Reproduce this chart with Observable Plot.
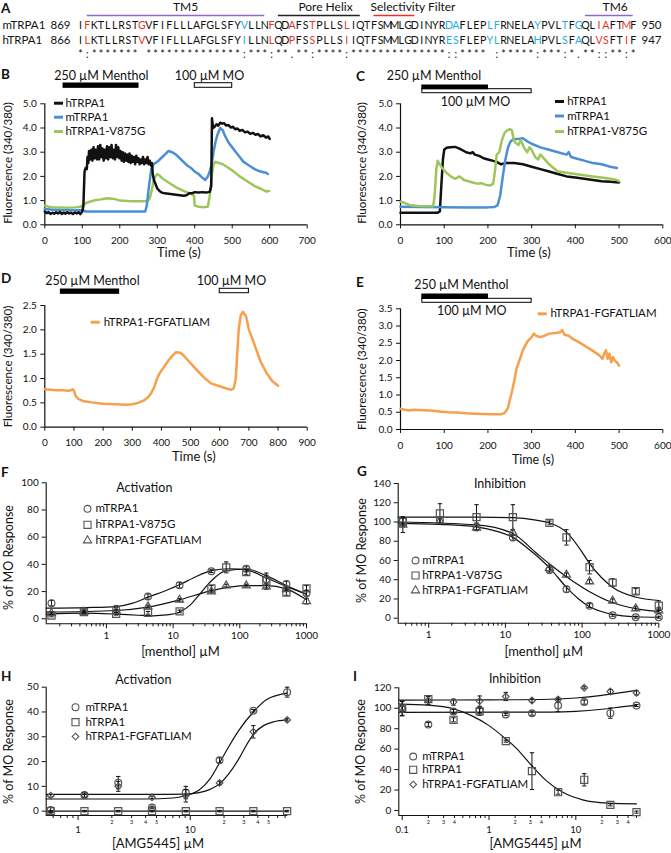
<!DOCTYPE html>
<html><head><meta charset="utf-8">
<script src="https://cdn.jsdelivr.net/npm/d3@7"></script>
<script src="https://cdn.jsdelivr.net/npm/@observablehq/plot@0.6"></script>
<style>
html,body{margin:0;padding:0;background:#fff;}
#fig{position:relative;width:671px;height:853px;overflow:hidden;background:#fff;font-family:Lato,"Open Sans",sans-serif;color:#111;}
#fig .p{position:absolute;}
#fig svg{overflow:visible;}
.h{position:absolute;white-space:nowrap;line-height:1;}
</style></head>
<body><div id="fig"></div>
<script>
// ================= DATA =================
// Panel A: alignment
const mSeq = "IFKTLLRSTGVFIFLLLAFGLSFYVLLNFQDAFSTPLLSLIQTFSMMLGDINYRDAFLEPLFRNELAYPVLTFGQLIAFTMF";
const hSeq = "ILKTLLRSTVVFIFLLLAFGLSFYILLNLQDPFSSPLLSIIQTFSMMLGDINYRESFLEPYLRNELAHPVLSFAQLVSFTIF";
const consSeq = ["*",":","*******"," ","**************",":","***",":","**",".","**",":","****",":","**************","::","****"," ",":","*****",":","***",":","*",".","**","::","**",":","*"].join("");
const redPos = [2,10,29,32,35,40,77,78,81];
const cyanPos = [25,55,56,61,62,68,72,74];
const seqNames = ["mTRPA1","hTRPA1"];
const seqStart = ["869","866"];
const seqEnd = ["950","947"];
const domainNames = ["TM5","Pore Helix","Selectivity Filter","TM6"];
const domainStart = [2,30,44,75];
const domainEnd = [28,42,50,82];

// Panel B (time s, 340/380)
const B_hTRPA1 = [[0,0.55],[5,0.48],[10,0.52],[15,0.45],[20,0.5],[25,0.46],[30,0.52],[35,0.47],[40,0.53],[45,0.45],[50,0.5],[55,0.46],[60,0.52],[65,0.47],[70,0.5],[75,0.45],[80,0.51],[85,0.47],[90,0.52],[95,0.44],[100,0.55],[103,0.8],[106,2.2],[109,2.35],[112,2.3],[114,2.8],[116,2.55],[118,3.05],[121,2.7],[124,3.1],[127,2.65],[130,3.2],[133,2.75],[136,3.1],[139,2.7],[142,3.25],[145,2.7],[148,3.3],[151,2.8],[154,3.15],[157,2.65],[160,3.1],[163,2.75],[166,3.25],[169,2.7],[172,3.2],[175,2.8],[178,3.3],[181,2.75],[184,3.1],[187,2.7],[190,3.3],[193,2.8],[196,3.2],[199,2.75],[202,3.05],[205,2.65],[208,3.0],[211,2.6],[214,2.95],[217,2.65],[220,2.9],[223,2.6],[226,2.95],[229,2.55],[232,2.85],[235,2.6],[238,2.8],[241,2.5],[244,2.85],[247,2.6],[250,2.75],[253,2.5],[256,2.7],[259,2.55],[262,2.8],[265,2.5],[268,2.7],[271,2.55],[274,2.8],[277,2.5],[280,2.65],[283,2.45],[286,2.55],[288,2.1],[291,1.85],[295,1.7],[300,1.5],[306,1.4],[312,1.33],[320,1.3],[330,1.28],[340,1.26],[350,1.24],[360,1.22],[370,1.2],[378,1.22],[385,1.3],[392,1.3],[400,1.35],[410,1.33],[420,1.35],[430,1.33],[440,1.36],[444,1.6],[446,4.4],[449,4.0],[453,4.05],[458,4.15],[463,4.1],[468,4.22],[473,4.18],[478,4.2],[484,4.1],[490,4.12],[496,4.02],[502,4.05],[508,3.95],[514,3.98],[520,3.88],[527,3.92],[534,3.82],[541,3.85],[548,3.76],[555,3.8],[562,3.72],[569,3.75],[576,3.65],[583,3.7],[590,3.6],[596,3.65],[600,3.55]];
const B_mTRPA1 = [[0,0.65],[20,0.62],[50,0.6],[80,0.6],[100,0.6],[110,0.55],[150,0.55],[200,0.55],[250,0.55],[268,0.55],[272,0.8],[278,1.6],[284,2.3],[290,2.5],[300,2.6],[310,2.75],[320,2.9],[330,3.05],[340,3.0],[350,2.9],[360,2.75],[370,2.6],[380,2.45],[390,2.35],[400,2.2],[410,2.1],[420,1.95],[428,1.85],[435,2.0],[440,2.2],[445,2.5],[450,3.0],[455,3.4],[460,3.7],[468,4.0],[475,3.9],[480,3.7],[490,3.4],[500,3.2],[510,3.0],[520,2.8],[530,2.6],[540,2.5],[550,2.4],[560,2.3],[575,2.2],[590,2.15],[595,2.1]];
const B_V875G = [[0,0.8],[10,0.75],[20,0.72],[40,0.72],[60,0.7],[80,0.72],[95,0.75],[100,0.8],[110,0.9],[120,0.95],[130,1.0],[150,1.05],[165,1.1],[180,1.08],[190,1.05],[200,1.0],[220,0.98],[240,0.97],[260,0.97],[275,0.98],[280,1.1],[285,1.4],[290,1.8],[295,2.0],[300,2.1],[305,2.05],[315,1.9],[330,1.75],[350,1.55],[370,1.4],[390,1.28],[398,1.2],[400,0.8],[410,0.75],[425,0.73],[435,0.75],[440,1.2],[445,2.0],[450,2.5],[455,2.6],[465,2.55],[475,2.5],[485,2.4],[500,2.25],[520,2.0],[540,1.8],[560,1.6],[575,1.5],[590,1.38],[598,1.4]];
const B_menthol = [50,250], B_MO = [400,500];
const B_xTicks = [0,100,200,300,400,500,600,700], B_yTicks = [0,1,2,3,4,5];

// Panel C
const C_hTRPA1 = [[0,0.5],[40,0.5],[85,0.5],[90,0.55],[93,1.5],[97,2.7],[100,3.1],[105,3.18],[115,3.2],[125,3.22],[135,3.15],[145,3.05],[150,3.0],[160,2.95],[165,3.0],[170,2.9],[180,2.85],[190,2.75],[200,2.7],[210,2.65],[220,2.6],[230,2.5],[240,2.55],[260,2.55],[280,2.5],[300,2.4],[320,2.3],[340,2.2],[360,2.1],[380,2.0],[400,1.95],[420,1.9],[440,1.85],[460,1.8],[480,1.78],[500,1.75]];
const C_mTRPA1 = [[0,0.75],[50,0.74],[100,0.73],[150,0.72],[200,0.72],[215,0.74],[222,0.8],[228,1.2],[234,2.0],[240,2.7],[246,3.2],[252,3.45],[260,3.55],[270,3.55],[280,3.58],[290,3.45],[300,3.35],[320,3.2],[340,3.1],[360,3.0],[380,2.9],[385,3.0],[390,2.8],[400,2.75],[420,2.65],[440,2.55],[460,2.5],[480,2.4],[495,2.35]];
const C_V875G = [[0,0.95],[10,0.9],[20,0.82],[40,0.78],[60,0.77],[75,0.77],[78,1.2],[82,2.3],[85,2.65],[88,2.55],[95,2.35],[105,2.15],[115,2.0],[125,1.9],[135,2.0],[145,1.85],[155,1.8],[165,1.75],[175,1.7],[185,1.72],[195,1.65],[205,1.62],[212,1.7],[216,2.2],[220,2.9],[226,3.0],[232,3.5],[238,3.8],[244,3.9],[250,3.95],[255,3.9],[258,3.6],[262,3.4],[270,3.3],[275,3.5],[282,3.2],[290,3.0],[295,3.2],[300,3.1],[308,2.8],[315,2.7],[320,2.9],[330,2.7],[340,2.5],[350,2.35],[360,2.2],[380,2.15],[400,2.1],[420,2.05],[440,2.0],[460,1.95],[480,1.9],[495,1.85],[500,1.8]];
const C_menthol = [50,200], C_MO = [50,300];
const C_xTicks = [0,100,200,300,400,500,600], C_yTicks = [0,1,2,3,4,5];

// Panel D
const D_FGF = [[0,0.78],[20,0.77],[40,0.76],[60,0.76],[80,0.75],[90,0.76],[95,0.78],[100,0.75],[105,0.65],[115,0.58],[130,0.54],[160,0.51],[200,0.48],[240,0.47],[280,0.46],[300,0.47],[320,0.5],[340,0.55],[355,0.62],[365,0.7],[375,0.82],[385,1.0],[395,1.12],[410,1.25],[425,1.38],[440,1.48],[450,1.54],[465,1.53],[475,1.48],[490,1.38],[510,1.25],[530,1.12],[550,1.0],[570,0.9],[600,0.84],[620,0.8],[640,0.77],[648,0.8],[655,1.0],[660,1.5],[665,2.0],[672,2.3],[680,2.37],[690,2.28],[695,2.15],[700,2.0],[710,1.85],[725,1.6],[740,1.35],[760,1.12],[780,0.95],[800,0.85]];
const D_menthol = [55,255], D_MO = [600,700];
const D_xTicks = [0,100,200,300,400,500,600,700,800,900], D_yTicks = [0,0.5,1,1.5,2,2.5];

// Panel E
const E_FGF = [[0,0.6],[10,0.57],[20,0.55],[30,0.57],[50,0.56],[70,0.55],[90,0.52],[110,0.5],[130,0.49],[150,0.47],[170,0.46],[190,0.45],[210,0.44],[230,0.44],[238,0.48],[245,0.6],[250,0.85],[255,1.1],[260,1.4],[265,1.75],[272,2.0],[280,2.3],[290,2.55],[300,2.68],[305,2.78],[310,2.72],[320,2.68],[330,2.72],[340,2.78],[355,2.8],[365,2.82],[370,2.88],[375,2.75],[385,2.72],[395,2.62],[410,2.52],[425,2.4],[440,2.28],[455,2.15],[462,2.05],[466,2.2],[470,2.3],[474,2.05],[478,2.2],[482,1.95],[486,2.1],[490,2.0],[495,1.95],[500,1.85]];
const E_menthol = [50,200], E_MO = [50,300];
const E_xTicks = [0,100,200,300,400,500,600], E_yTicks = [0,0.5,1,1.5,2,2.5,3,3.5];

// Panel F (menthol activation, % of MO response)
const F_conc = [0.15,0.46,1.4,4.2,12.5,37.5,62.5,125,250,500,1000];
const F_m = [11.5,5.6,7.3,16.3,24.6,35,null,36.8,29,25.6,18.8];
const F_mErr = [2,1,1,2,2,1,0,2,3,2,2];
const F_v = [2.4,4.9,3.7,4.4,5.4,22.4,37.8,34.4,27.6,19.3,22.4];
const F_vErr = [1,1,1,1,1,2,4,2,6,2,2];
const F_f = [4.1,5,5.6,9,13.9,20,24.4,24.4,23.7,21.7,12.9];
const F_fErr = [1,1,1,1,1,1,1,1,1,1,2];
const F_mFit = [[0.125,7.8],[0.5,8.2],[1.4,9],[2.5,11.5],[4.2,15.9],[8,21],[12.5,25],[20,30],[37.5,35.4],[70,36.8],[125,36],[250,30],[500,23.7],[1000,18]];
const F_vFit = [[0.125,3.3],[0.46,4.1],[1.4,3.4],[3,2.6],[5,2.2],[8,2.8],[12.5,5],[18,10],[25,18],[37.5,28],[62.5,35.4],[125,36.6],[250,31.7],[500,24.4],[1000,18]];
const F_fFit = [[0.125,4.9],[1.4,6.1],[4.2,8.5],[12.5,13.9],[37.5,20.7],[125,24.4],[250,24.4],[500,22],[1000,13.9]];
const F_yTicks = [0,20,40,60,80,100];
const F_major = [1,10,100,1000];
const F_minor = [0.2,0.3,0.4,0.5,0.6,0.7,0.8,0.9,2,3,4,5,6,7,8,9,20,30,40,50,60,70,80,90,200,300,400,500,600,700,800,900];

// Panel G (menthol inhibition)
const G_conc = [0.46,1.4,4.2,12.5,37.5,62.5,125,250,500,1000];
const G_m = [101,102,95,84,50,30,13,3,1,1];
const G_mErr = [4,3,4,3,3,3,2,1,1,1];
const G_v = [100,109,105,105,99,84,53,37,28,13];
const G_vErr = [5,10,13,13,2,8,7,4,3,5];
const G_f = [97,101,94,89,52,45,38,18,10,8];
const G_fErr = [8,3,3,3,3,2,2,2,2,3];
const G_mFit = [[0.4,98.5],[1.4,97.5],[4.2,95],[8,90],[12.5,84],[20,72],[30,60],[40,50],[62.5,32],[90,20],[125,12],[250,4],[500,1.5],[1000,1]];
const G_vFit = [[0.4,105],[4.2,105],[12.5,104.5],[25,102],[38,99],[62.5,89.5],[100,68.7],[122,58],[180,42],[252,32],[495,22],[1000,18.4]];
const G_fFit = [[0.4,100],[4.2,97],[12.5,88],[25,68],[38,56],[62.5,43],[122,28],[252,16],[495,10],[1000,7]];
const G_yTicks = [0,20,40,60,80,100,120,140];
const G_major = [1,10,100,1000];
const G_minor = [0.5,0.6,0.7,0.8,0.9,2,3,4,5,6,7,8,9,20,30,40,50,60,70,80,90,200,300,400,500,600,700,800,900];

// Panel H (AMG5445 activation)
const H_conc = [0.57,1.14,2.28,4.56,9.125,18.25,36.5,73];
const H_m = [0.5,6.5,11.5,1.5,7.5,20.5,40.5,48];
const H_mErr = [1,1,2.5,0.5,2.5,1,0.5,2];
const H_h = [0,0,0,0,0,0,0,0];
const H_hErr = [0.3,0.3,0.3,0.3,0.3,0.3,0.3,0.3];
const H_f = [6.2,6.5,10,5.6,6.2,11.4,32,36.8];
const H_fErr = [0.5,1,2,0.5,2.5,0.7,2.5,0.5];
const H_mFit = [[0.52,4.9],[4,4.9],[7,5.3],[9.1,6.3],[12,8.5],[15,13],[18.25,19.5],[22,26],[27,32.5],[36.5,40],[48,45],[73,47.6]];
const H_hFit = [[0.52,0],[73,0]];
const H_fFit = [[0.52,6.8],[5,6.8],[9,6.9],[12,7.5],[15,8.8],[18.25,11],[22,15],[27,21],[32,27],[36.5,31],[45,34.5],[55,36],[73,36.8]];
const H_yTicks = [0,10,20,30,40,50];
const H_major = [1,10];
const H_minor = [0.6,0.7,0.8,0.9,2,3,4,5,6,7,8,9,20,30,40,50,60,70];

// Panel I (AMG5445 inhibition)
const I_conc = [0.1,0.2,0.39,0.78,1.56,3.125,6.25,12.5,25,50];
const I_m = [99.5,84,96.8,97.8,94,95.2,102.7,106,95.2,102.7];
const I_mErr = [7,2,2,2,1,2,6,2,5,1];
const I_h = [100,109,88.7,97,67.8,38.5,17.9,30,5.5,-1.6];
const I_hErr = [7,3,2,4,1,18,2,6,1,1];
const I_f = [100,107.6,106,107,111.5,107.6,108.6,120,116.4,115];
const I_fErr = [3,4,3,5,4,2,2,1,2,2];
const I_mFit = [[0.0914,96],[5,96.3],[10,97],[20,99],[35,101.5],[50,103]];
const I_hFit = [[0.0914,104],[0.2,103],[0.39,99.5],[0.62,93],[1,83],[1.56,70],[2,62],[3.1,44],[4.6,29],[7,18],[12,10.4],[23,7.2],[50,6.5]];
const I_fFit = [[0.0914,108],[1,108.2],[5,108.8],[10,110],[20,112.5],[35,115.5],[50,117.5]];
const I_yTicks = [0,20,40,60,80,100,120];
const I_major = [0.1,1,10];
const I_minor = [0.2,0.3,0.4,0.5,0.6,0.7,0.8,0.9,2,3,4,5,6,7,8,9,20,30,40,50];

// ================= STYLE / HELPERS =================
const FONT = "Lato, 'Open Sans', sans-serif";
const COL = {black:"#111111", blue:"#4a8fd6", green:"#9cc65a", orange:"#f6a04c", red:"#e5332a", cyan:"#25aee0", purple:"#9068cc", marker:"#555555"};
const STYLE = {fontFamily: FONT, fontSize: "10px", background: "transparent", overflow: "visible", maxWidth: "none", color: "#111"};
const fig = document.getElementById("fig");

function place(svg, b){
  const d = document.createElement("div");
  d.className = "p"; d.style.left = b.left + "px"; d.style.top = b.top + "px";
  d.style.width = (b.right - b.left) + "px"; d.style.height = (b.bottom - b.top) + "px";
  d.appendChild(svg); fig.appendChild(d);
}
function htext(str, x, y, size, weight, center){
  const s = document.createElement("div");
  s.className = "h"; s.textContent = str;
  s.style.fontSize = size + "px"; s.style.fontWeight = weight || "normal";
  s.style.left = x + "px"; s.style.top = y + "px";
  s.style.transform = center ? "translate(-50%,-50%)" : "translate(0,-50%)";
  fig.appendChild(s);
}
function dims(b){ return {width:b.right-b.left, height:b.bottom-b.top, marginLeft:b.fx0-b.left, marginRight:b.right-b.fx1, marginTop:b.fy0-b.top, marginBottom:b.bottom-b.fy1}; }
function at(b, str, px, py, o){ return Plot.text([str], Object.assign({text:d=>d, frameAnchor:"top-left", dx:px-b.fx0, dy:py-b.fy0, fontFamily:FONT, fill:"#111", lineAnchor:"middle"}, o||{})); }
function yAt(b, dom, py){ return dom[0] + (b.fy1-py)/(b.fy1-b.fy0)*(dom[1]-dom[0]); }
const hline = {draw(ctx, size){ const w = Math.sqrt(size/Math.PI); ctx.moveTo(-w,0); ctx.lineTo(w,0); }};
function legLine(b, color, px, py, label, tx){
  return [
    Plot.dot([0], {frameAnchor:"top-left", dx:px-b.fx0, dy:py-b.fy0, symbol:hline, r:4.5, stroke:color, strokeWidth:3, fill:"none"}),
    at(b, label, tx, py, {textAnchor:"start", fontSize:11.5})
  ];
}
function legSym(b, symbol, r, px, py, label, tx){
  return [
    Plot.dot([0], {frameAnchor:"top-left", dx:px-b.fx0, dy:py-b.fy0, symbol, r, stroke:COL.marker, strokeWidth:1.1, fill:"none"}),
    at(b, label, tx, py, {textAnchor:"start", fontSize:11.5})
  ];
}
function ylab(b, str, px, py, size){ return at(b, str, px, py, {rotate:-90, textAnchor:"middle", fontSize:size}); }
function xlab(b, str, px, py, size){ return at(b, str, px, py, {textAnchor:"middle", fontSize:size}); }
function bar(b, dom, range, topPx, botPx, filled){
  return Plot.rect([range], {x1:d=>d[0], x2:d=>d[1], y1:()=>yAt(b,dom,botPx), y2:()=>yAt(b,dom,topPx), fill: filled ? "#000" : "#fff", stroke:"#000", strokeWidth:1});
}

function tracePanel(b, xDomain, yDomain, xTicks, yTicks, series, extra){
  const marks = [
    Plot.ruleX([xDomain[0]], {y1:()=>yDomain[0], y2:()=>yDomain[1], stroke:"#111", strokeWidth:1.2}),
    Plot.ruleY([yDomain[0]], {x1:()=>xDomain[0], x2:()=>xDomain[1], stroke:"#111", strokeWidth:1.2}),
    Plot.axisX({ticks:xTicks, tickSize:4, tickPadding:8, tickFormat:d=>String(d), label:null, fontSize:10}),
    Plot.axisY({ticks:yTicks, tickSize:4, tickPadding:4, tickFormat:d3.format(".1f"), label:null, fontSize:10}),
    ...series.map(s => Plot.line(s.data, {x:d=>d[0], y:d=>d[1], stroke:s.color, strokeWidth:2.5, strokeLinejoin:"round"})),
    ...extra
  ];
  return Plot.plot(Object.assign(dims(b), {x:{domain:xDomain}, y:{domain:yDomain}, style:STYLE, marks}));
}

const digit = d => { const p = Math.pow(10, Math.floor(Math.log10(d) + 1e-9)); return String(Math.round(d / p)); };
function dosePanel(b, o){
  const marks = [
    Plot.ruleX([o.xDomain[0]], {y1:()=>o.yDomain[0], y2:()=>o.yTicks[o.yTicks.length-1], stroke:"#111", strokeWidth:1.1}),
    Plot.ruleY([o.yDomain[0]], {x1:()=>o.xDomain[0], x2:()=>o.xDomain[1], stroke:"#111", strokeWidth:1.1}),
    Plot.axisY({ticks:o.yTicks, tickSize:4, tickPadding:3.5, tickFormat:d=>String(d), label:null, fontSize:10}),
    Plot.axisX({ticks:o.minor, tickSize:3, tickPadding:1.5, tickFormat: o.minorDigits ? digit : ()=>"", label:null, fontSize:5.5}),
    Plot.axisX({ticks:o.major, tickSize:5, tickPadding:o.majorPad, tickFormat:d=>String(d), label:null, fontSize:o.majorFont})
  ];
  for (const s of o.series) marks.push(Plot.line(s.fit, {x:d=>d[0], y:d=>d[1], stroke:"#111", strokeWidth:1.2, curve:"monotone-x"}));
  for (const s of o.series) {
    const t = o.conc.map((x,k)=>({x, y:s.y[k], e:s.e[k]})).filter(d => d.y != null);
    marks.push(Plot.ruleX(t, {x:"x", y1:d=>d.y-d.e, y2:d=>d.y+d.e, stroke:"#111", strokeWidth:1}));
    marks.push(Plot.dot(t, {x:"x", y:d=>d.y-d.e, symbol:hline, r:2.2, stroke:"#111", strokeWidth:1, fill:"none"}));
    marks.push(Plot.dot(t, {x:"x", y:d=>d.y+d.e, symbol:hline, r:2.2, stroke:"#111", strokeWidth:1, fill:"none"}));
    marks.push(Plot.dot(t, {x:"x", y:"y", symbol:s.symbol, r:s.r, stroke:COL.marker, strokeWidth:1.2, fill:"none"}));
  }
  return Plot.plot(Object.assign(dims(b), {x:{type:"log", domain:o.xDomain}, y:{domain:o.yDomain}, style:STYLE, marks:marks.concat(o.extra)}));
}

// ================= PANEL A =================
const bA = {left:0, top:0, right:671, bottom:64, fx0:0, fx1:671, fy0:0, fy1:64};
const rowY = {m:25.3, h:40.3, c:54};
const resTable = [];
for (let k = 0; k < mSeq.length; k++) {
  resTable.push({i:k+1, row:"m", c:mSeq[k]});
  resTable.push({i:k+1, row:"h", c:hSeq[k]});
  if (consSeq[k] !== " ") resTable.push({i:k+1, row:"c", c:consSeq[k]});
}
const resColor = d => d.row === "c" ? COL.black : redPos.includes(d.i) ? COL.red : cyanPos.includes(d.i) ? COL.cyan : COL.black;
const domainColors = [COL.purple, "#222", COL.red, COL.purple];
const domainLabelPx = [185, 325, 412.5, 614.7];
const plotA = Plot.plot({
  width:671, height:64, margin:0,
  x:{domain:[1,82], range:[80,632.7], axis:null},
  y:{domain:[0,64], range:[0,64], axis:null},
  color:{type:"identity"},
  style:STYLE,
  marks:[
    Plot.ruleY([0,1,2,3], {x1:j=>domainStart[j], x2:j=>domainEnd[j], y:()=>15, stroke:j=>domainColors[j], strokeWidth:1.6}),
    ...domainNames.map((n,j) => at(bA, n, domainLabelPx[j], 6.8, {textAnchor:"middle", fontSize:12})),
    Plot.text(resTable, {x:"i", y:d=>rowY[d.row], text:"c", fill:resColor, fontSize:10.6, fontFamily:FONT, lineAnchor:"middle"}),
    ...seqNames.map((n,j) => at(bA, n, 2, j ? rowY.h : rowY.m, {textAnchor:"start", fontSize:11.5})),
    ...seqStart.map((n,j) => at(bA, n, 70, j ? rowY.h : rowY.m, {textAnchor:"end", fontSize:11.5})),
    ...seqEnd.map((n,j) => at(bA, n, 641, j ? rowY.h : rowY.m, {textAnchor:"start", fontSize:11.5}))
  ]
});
place(plotA, bA);

// ================= PANEL B =================
const bB = {left:0, top:60, right:330, bottom:262, fx0:44.3, fx1:306.7, fy0:103.3, fy1:224.3};
const domB = [0,5];
place(tracePanel(bB, [0,700], domB, B_xTicks, B_yTicks,
  [{data:B_V875G, color:COL.green}, {data:B_mTRPA1, color:COL.blue}, {data:B_hTRPA1, color:COL.black}],
  [
    bar(bB, domB, B_menthol, 83, 87.3, true),
    bar(bB, domB, B_MO, 82.7, 87.3, false),
    at(bB, "250 µM Menthol", 100.8, 75, {textAnchor:"middle", fontSize:12.5}),
    at(bB, "100 µM MO", 209, 75, {textAnchor:"middle", fontSize:12.5}),
    ...legLine(bB, COL.black, 58, 102.7, "hTRPA1", 65),
    ...legLine(bB, COL.blue, 58, 116.7, "mTRPA1", 65),
    ...legLine(bB, COL.green, 58, 131, "hTRPA1-V875G", 65),
    ylab(bB, "Fluorescence (340/380)", 7.8, 162.5, 11.6),
    xlab(bB, "Time (s)", 178.3, 252.5, 13)
  ]), bB);

// ================= PANEL C =================
const bC = {left:352, top:60, right:671, bottom:262, fx0:400, fx1:662.3, fy0:103.3, fy1:224.3};
const domC = [0,5];
place(tracePanel(bC, [0,600], domC, C_xTicks, C_yTicks,
  [{data:C_hTRPA1, color:COL.black}, {data:C_mTRPA1, color:COL.blue}, {data:C_V875G, color:COL.green}],
  [
    bar(bC, domC, C_MO, 88.7, 92.7, false),
    bar(bC, domC, C_menthol, 85, 88.7, true),
    at(bC, "250 µM Menthol", 433.5, 75, {textAnchor:"middle", fontSize:12.5}),
    at(bC, "100 µM MO", 475, 101, {textAnchor:"middle", fontSize:12.5}),
    ...legLine(bC, COL.black, 559, 101, "hTRPA1", 566.7),
    ...legLine(bC, COL.blue, 559, 115.5, "mTRPA1", 566.7),
    ...legLine(bC, COL.green, 559, 131, "hTRPA1-V875G", 566.7),
    ylab(bC, "Fluorescence (340/380)", 361.7, 162.5, 11.6),
    xlab(bC, "Time (s)", 528.3, 252.5, 13)
  ]), bC);

// ================= PANEL D =================
const bD = {left:0, top:268, right:330, bottom:466, fx0:44.3, fx1:306.7, fy0:305, fy1:426.7};
const domD = [0,2.5];
place(tracePanel(bD, [0,900], domD, D_xTicks, D_yTicks,
  [{data:D_FGF, color:COL.orange}],
  [
    bar(bD, domD, D_menthol, 289, 293.3, true),
    bar(bD, domD, D_MO, 288.3, 292.7, false),
    at(bD, "250 µM Menthol", 92, 280, {textAnchor:"middle", fontSize:12.5}),
    at(bD, "100 µM MO", 231, 280, {textAnchor:"middle", fontSize:12.5}),
    ...legLine(bD, COL.orange, 94.7, 321.7, "hTRPA1-FGFATLIAM", 103.3),
    ylab(bD, "Fluorescence (340/380)", 7.8, 366, 11.6),
    xlab(bD, "Time (s)", 193.3, 456, 13)
  ]), bD);

// ================= PANEL E =================
const bE = {left:352, top:268, right:671, bottom:466, fx0:400, fx1:662.3, fy0:308.3, fy1:429};
const domE = [0,3.5];
place(tracePanel(bE, [0,600], domE, E_xTicks, E_yTicks,
  [{data:E_FGF, color:COL.orange}],
  [
    bar(bE, domE, E_MO, 298.3, 302.3, false),
    bar(bE, domE, E_menthol, 294, 298.3, true),
    at(bE, "250 µM Menthol", 460.8, 284.5, {textAnchor:"middle", fontSize:12.5}),
    at(bE, "100 µM MO", 471.3, 310.5, {textAnchor:"middle", fontSize:12.5}),
    ...legLine(bE, COL.orange, 541.7, 313.3, "hTRPA1-FGFATLIAM", 550),
    ylab(bE, "Fluorescence (340/380)", 361.7, 368.7, 11.6),
    xlab(bE, "Time (s)", 532.5, 459, 12.5)
  ]), bE);

// ================= PANEL F =================
const bF = {left:0, top:476, right:330, bottom:662, fx0:45.7, fx1:306, fy0:482.3, fy1:623.3};
place(dosePanel(bF, {
  xDomain:[0.125,1000], yDomain:[-3.7,100], yTicks:F_yTicks, major:F_major, minor:F_minor, minorDigits:false, majorPad:3, majorFont:10,
  conc:F_conc,
  series:[
    {y:F_m, e:F_mErr, fit:F_mFit, symbol:"circle", r:3.4},
    {y:F_v, e:F_vErr, fit:F_vFit, symbol:"square", r:4},
    {y:F_f, e:F_fErr, fit:F_fFit, symbol:"triangle", r:3}
  ],
  extra:[
    ...legSym(bF, "circle", 3.4, 87, 508.3, "mTRPA1", 95),
    ...legSym(bF, "square", 4, 87, 524.3, "hTRPA1-V875G", 95),
    ...legSym(bF, "triangle", 3, 87, 540, "hTRPA1-FGFATLIAM", 95),
    ylab(bF, "% of MO Response", 8.3, 557, 12.5),
    xlab(bF, "[menthol] µM", 180, 651.7, 13)
  ]
}), bF);

// ================= PANEL G =================
const bG = {left:352, top:476, right:671, bottom:662, fx0:397.7, fx1:658.3, fy0:483, fy1:622.7};
place(dosePanel(bG, {
  xDomain:[0.4,1000], yDomain:[-5.2,140], yTicks:G_yTicks, major:G_major, minor:G_minor, minorDigits:false, majorPad:3, majorFont:10,
  conc:G_conc,
  series:[
    {y:G_m, e:G_mErr, fit:G_mFit, symbol:"circle", r:3.4},
    {y:G_v, e:G_vErr, fit:G_vFit, symbol:"square", r:4},
    {y:G_f, e:G_fErr, fit:G_fFit, symbol:"triangle", r:3}
  ],
  extra:[
    ...legSym(bG, "circle", 3.4, 415, 560, "mTRPA1", 421.7),
    ...legSym(bG, "square", 4, 415, 575, "hTRPA1-V875G", 421.7),
    ...legSym(bG, "triangle", 3, 415, 590, "hTRPA1-FGFATLIAM", 421.7),
    ylab(bG, "% of MO Response", 361.7, 550, 12.5),
    xlab(bG, "[menthol] µM", 543.3, 651.7, 13)
  ]
}), bG);

// ================= PANEL H =================
const bH = {left:0, top:672, right:330, bottom:853, fx0:45.7, fx1:287.3, fy0:686.7, fy1:815};
place(dosePanel(bH, {
  xDomain:[0.52,74], yDomain:[-1.75,50], yTicks:H_yTicks, major:H_major, minor:H_minor, minorDigits:true, majorPad:5.5, majorFont:9.5,
  conc:H_conc,
  series:[
    {y:H_m, e:H_mErr, fit:H_mFit, symbol:"circle", r:3.4},
    {y:H_h, e:H_hErr, fit:H_hFit, symbol:"square", r:4},
    {y:H_f, e:H_fErr, fit:H_fFit, symbol:"diamond2", r:3}
  ],
  extra:[
    ...legSym(bH, "circle", 3.4, 75, 706.7, "mTRPA1", 85),
    ...legSym(bH, "square", 4, 75, 721.7, "hTRPA1", 85),
    ...legSym(bH, "diamond2", 3, 75, 736, "hTRPA1-FGFATLIAM", 85),
    ylab(bH, "% of MO Response", 8.3, 751, 12.5),
    xlab(bH, "[AMG5445] µM", 157.5, 843.5, 13)
  ]
}), bH);

// ================= PANEL I =================
const bI = {left:352, top:672, right:671, bottom:853, fx0:398.3, fx1:636, fy0:687.3, fy1:815};
place(dosePanel(bI, {
  xDomain:[0.0914,50], yDomain:[-4.9,120], yTicks:I_yTicks, major:I_major, minor:I_minor, minorDigits:true, majorPad:5.5, majorFont:9.5,
  conc:I_conc,
  series:[
    {y:I_m, e:I_mErr, fit:I_mFit, symbol:"circle", r:3.4},
    {y:I_h, e:I_hErr, fit:I_hFit, symbol:"square", r:4},
    {y:I_f, e:I_fErr, fit:I_fFit, symbol:"diamond2", r:3}
  ],
  extra:[
    ...legSym(bI, "circle", 3.4, 412.7, 756, "mTRPA1", 421.7),
    ...legSym(bI, "square", 4, 412.7, 769.3, "hTRPA1", 421.7),
    ...legSym(bI, "diamond2", 3, 412.7, 784, "hTRPA1-FGFATLIAM", 421.7),
    ylab(bI, "% of MO Response", 360, 751, 12.5),
    xlab(bI, "[AMG5445] µM", 535, 843.5, 13)
  ]
}), bI);

// ================= Panel letters & titles =================
const letters = [["A",1,9],["B",1,75],["C",356,77],["D",1,278.7],["E",356,283],["F",1,473],["G",357,471.7],["H",1,676.7],["I",353,676.7]];
letters.forEach(([t,x,y]) => htext(t, x, y, 13.5, "bold", false));
const titles = [["Activation",144.3,487.5],["Inhibition",500,484],["Activation",143.3,680],["Inhibition",515,679]];
titles.forEach(([t,x,y]) => htext(t, x, y, 12.5, "normal", true));
</script>
</body></html>
